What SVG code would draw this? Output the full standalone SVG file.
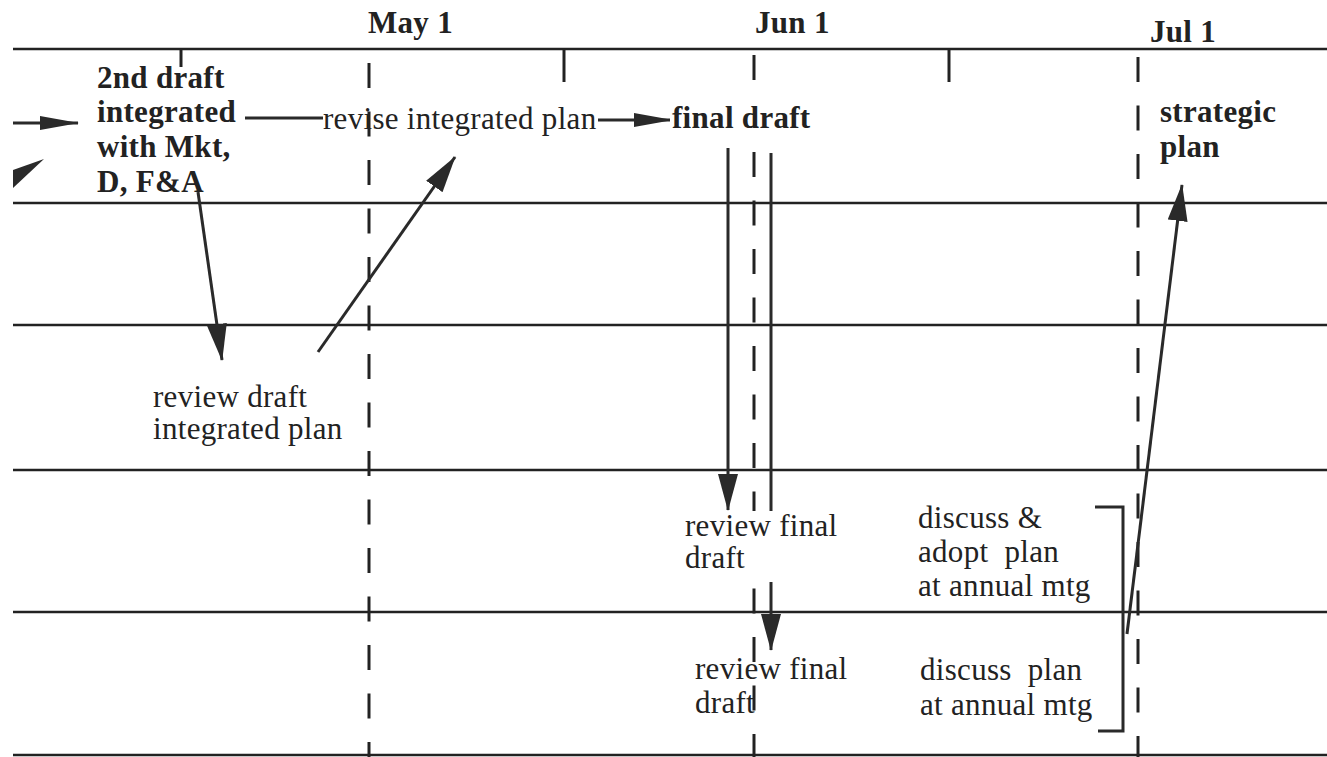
<svg xmlns="http://www.w3.org/2000/svg" width="1327" height="757" viewBox="0 0 1327 757">
  <style>
    .lane { stroke: #222; stroke-width: 2.5; fill: none; }
    .tick { stroke: #222; stroke-width: 3; fill: none; }
    .month { stroke: #222; stroke-width: 3; fill: none; stroke-dasharray: 25 23.5; }
    .conn { stroke: #2a2a2a; stroke-width: 3; fill: none; }
    .head { fill: #2a2a2a; stroke: none; }
    text { font-family: "Liberation Serif", "Times New Roman", serif; font-size: 31px; letter-spacing: 0.3px; fill: #222; }
    .b { font-weight: bold; }
    .mask { fill: #fff; stroke: none; }
  </style>
  <defs>
    <marker id="arrow" markerUnits="userSpaceOnUse" markerWidth="38" markerHeight="20" refX="36" refY="10" orient="auto">
      <path class="head" d="M0,0 L37,10 L0,20 Z"/>
    </marker>
    <marker id="arrow-flat" markerUnits="userSpaceOnUse" markerWidth="40" markerHeight="14" refX="38" refY="7" orient="auto">
      <path class="head" d="M0,0 L39,7 L0,14 Z"/>
    </marker>
  </defs>

  <rect x="0" y="0" width="1327" height="757" fill="#fff"/>

  <!-- swim lanes -->
  <g id="lanes">
    <line class="lane" x1="13" y1="49" x2="1327" y2="49"/>
    <line class="lane" x1="13" y1="203" x2="1327" y2="203"/>
    <line class="lane" x1="13" y1="325" x2="1327" y2="325"/>
    <line class="lane" x1="13" y1="470" x2="1327" y2="470"/>
    <line class="lane" x1="13" y1="612" x2="1327" y2="612"/>
    <line class="lane" x1="13" y1="755" x2="1327" y2="755"/>
  </g>

  <!-- time scale: half-month ticks and month boundaries -->
  <g id="timescale">
    <line class="tick" x1="181" y1="49" x2="181" y2="67"/>
    <line class="tick" x1="564" y1="49" x2="564" y2="82"/>
    <line class="tick" x1="949" y1="49" x2="949" y2="82"/>
    <line class="month" x1="369" y1="63" x2="369" y2="757"/>
    <line class="month" x1="754" y1="55" x2="754" y2="757"/>
    <line class="month" x1="1138" y1="57" x2="1138" y2="757"/>
    <text class="b" x="368" y="33">May 1</text>
    <text class="b" x="755" y="33">Jun 1</text>
    <text class="b" x="1150" y="42">Jul 1</text>
  </g>

  <!-- connectors -->
  <g id="connectors">
    <line class="conn" x1="13" y1="123" x2="78" y2="123" marker-end="url(#arrow-flat)"/>
    <polygon class="head" points="44,159 13,188 13,170"/>
    <line class="conn" x1="245" y1="118" x2="323" y2="118"/>
    <line class="conn" x1="598" y1="120" x2="672" y2="120" marker-end="url(#arrow-flat)"/>
    <line class="conn" x1="198" y1="192" x2="222" y2="360" marker-end="url(#arrow)"/>
    <line class="conn" x1="318" y1="352" x2="455" y2="157" marker-end="url(#arrow)"/>
    <line class="conn" x1="728" y1="148" x2="728" y2="510" marker-end="url(#arrow)"/>
    <line class="conn" x1="771" y1="153" x2="771" y2="650" marker-end="url(#arrow)"/>
    <line class="conn" x1="1127" y1="634" x2="1182" y2="185" marker-end="url(#arrow)"/>
    <polyline class="conn" points="1095,507 1123,507 1123,731 1098,731"/>
  </g>

  <!-- activity nodes -->
  <g id="node-2nd-draft">
    <text class="b" x="97" y="88">2nd draft</text>
    <text class="b" x="97" y="122">integrated</text>
    <text class="b" x="97" y="157">with Mkt,</text>
    <text class="b" x="97" y="192">D, F&amp;A</text>
  </g>
  <g id="node-revise">
    <text x="323" y="129">revise integrated plan</text>
  </g>
  <g id="node-final-draft">
    <rect class="mask" x="670" y="98" width="142" height="38"/>
    <text class="b" x="672" y="128">final draft</text>
  </g>
  <g id="node-strategic-plan">
    <text class="b" x="1160" y="122">strategic</text>
    <text class="b" x="1160" y="157">plan</text>
  </g>
  <g id="node-review-draft">
    <text x="153" y="407">review draft</text>
    <text x="153" y="439">integrated plan</text>
  </g>
  <g id="node-review-final-1">
    <rect class="mask" x="683" y="511" width="158" height="71"/>
    <text x="685" y="536">review final</text>
    <text x="685" y="568">draft</text>
  </g>
  <g id="node-review-final-2">
    <text x="695" y="679">review final</text>
    <text x="695" y="713">draft</text>
  </g>
  <g id="node-adopt">
    <text x="918" y="528">discuss &amp;</text>
    <text x="918" y="562" xml:space="preserve">adopt  plan</text>
    <text x="918" y="596">at annual mtg</text>
  </g>
  <g id="node-discuss">
    <text x="920" y="680" xml:space="preserve">discuss  plan</text>
    <text x="920" y="715">at annual mtg</text>
  </g>
</svg>
